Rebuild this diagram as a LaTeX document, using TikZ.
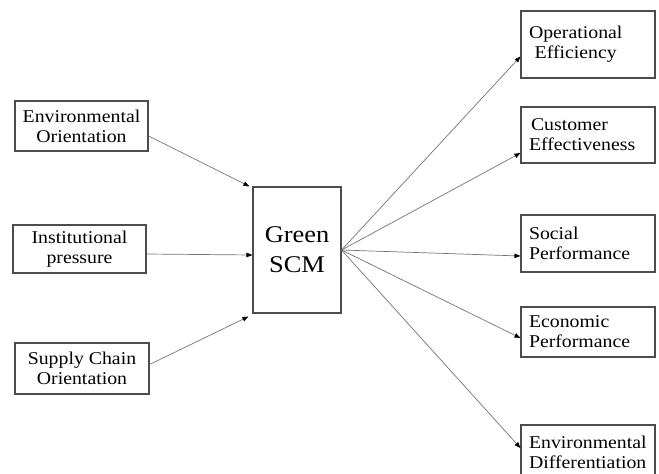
\documentclass[tikz,border=0pt]{standalone}
\usepackage{fontspec}
\setmainfont{Liberation Serif}[FakeStretch=1.1]
\usetikzlibrary{arrows.meta}
\begin{document}
\begin{tikzpicture}[x=1pt,y=-1pt,
  box/.style={draw=black!70,line width=1.1pt,inner sep=0pt,font=\fontsize{18}{20}\selectfont},
  rbox/.style={box,minimum width=134pt,text width=118pt,inner xsep=8pt,align=left},
  link/.style={draw=black!55,line width=0.7pt,-{Triangle[length=6pt,width=4.5pt,color=black]}}]
\useasboundingbox (0,0) rectangle (659,474);
\node[box,minimum width=133pt,minimum height=50pt,align=center] (eo) at (81.5,126) {Environmental\\Orientation};
\node[box,minimum width=133pt,minimum height=48pt,align=center] (ip) at (79.5,249) {Institutional\\pressure};
\node[box,minimum width=134pt,minimum height=51pt,align=center] (sco) at (82,368.5) {Supply Chain\\Orientation};
\node[box,minimum width=88pt,minimum height=126pt,align=center,font=\fontsize{24}{30}\selectfont] (g) at (297,250) {Green\\SCM};
\node[rbox,minimum height=67pt] (oe) at (588,44.5) {\begin{tabular}{@{}c@{}}Operational\\Efficiency\end{tabular}};
\node[rbox,minimum height=56pt] (ce) at (588,135) {\hspace*{2pt}Customer\\Effectiveness};
\node[rbox,minimum height=57pt] (sp) at (588,243.5) {Social\\Performance};
\node[rbox,minimum height=50pt] (ep) at (588,332) {Economic\\Performance};
\node[rbox,minimum height=54pt] (ed) at (588,452) {Environmental\\Differentiation};
\draw[link] ([yshift=-10pt]eo.east) -- ([xshift=-3pt]g.north west);
\draw[link] ([yshift=-5pt]ip.east) -- ([yshift=-5pt]g.west);
\draw[link] ([yshift=4pt]sco.east) -- ([xshift=-4pt,yshift=-3pt]g.south west);
\draw[link] (g.east) -- ([yshift=-12pt]oe.west);
\draw[link] (g.east) -- ([yshift=-18pt]ce.west);
\draw[link] (g.east) -- ([yshift=-12.5pt]sp.west);
\draw[link] (g.east) -- ([yshift=-6pt]ep.west);
\draw[link] (g.east) -- ([yshift=4pt]ed.west);
\end{tikzpicture}
\end{document}
